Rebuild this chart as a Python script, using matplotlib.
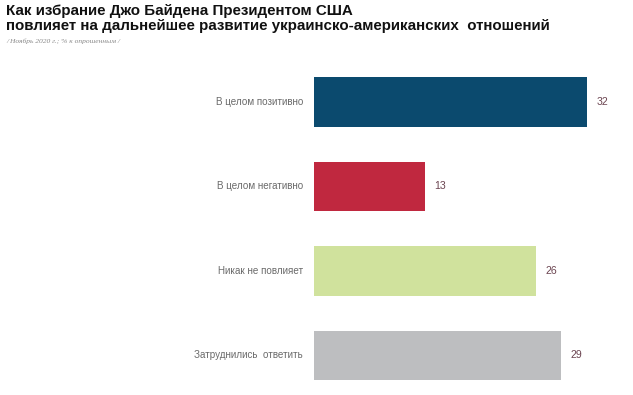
import matplotlib.pyplot as plt

categories = ['В целом позитивно', 'В целом негативно', 'Никак не повлияет',
              'Затруднились  ответить']
values = [32, 13, 26, 29]
colors = ['#0B4A6E', '#C0283F', '#D0E29D', '#BDBEC0']

W, H = 633, 395
fig = plt.figure(figsize=(W / 100, H / 100), dpi=100)
plt.rcParams['font.family'] = ['Liberation Sans', 'DejaVu Sans']

# axes placed in pixel terms
left, right, top, bottom = 314, 625, 59.75, 393.5
ax = fig.add_axes([left / W, (H - bottom) / H, (right - left) / W, (bottom - top) / H])
ax.barh(range(len(values)), values, height=0.59, color=colors)
ax.set_xlim(0, (right - left) / 8.53)
ax.set_ylim(3.45, -0.5)
ax.axis('off')

for i, (c, v) in enumerate(zip(categories, values)):
    ax.text(-1.3, i, c, ha='right', va='center', fontsize=7.1, color='#6a6a6a')
    ax.text(v + 1.1, i, str(v), ha='left', va='center', fontsize=7.6, color='#6b4450')

fig.text(6 / W, 1 - 11.5 / H, 'Как избрание Джо Байдена Президентом США',
         fontsize=10.9, fontweight='bold', ha='left', va='center', color='#111111')
fig.text(6 / W, 1 - 26 / H,
         'повлияет на дальнейшее развитие украинско-американских  отношений',
         fontsize=10.9, fontweight='bold', ha='left', va='center', color='#111111')
fig.text(6 / W, 1 - 41.5 / H, '/ Ноябрь 2020 г.; % к опрошенным /',
         fontsize=5.4, fontstyle='italic', family='Liberation Serif',
         ha='left', va='center', color='#8a8a8a')

fig.savefig('out.png', dpi=100)
